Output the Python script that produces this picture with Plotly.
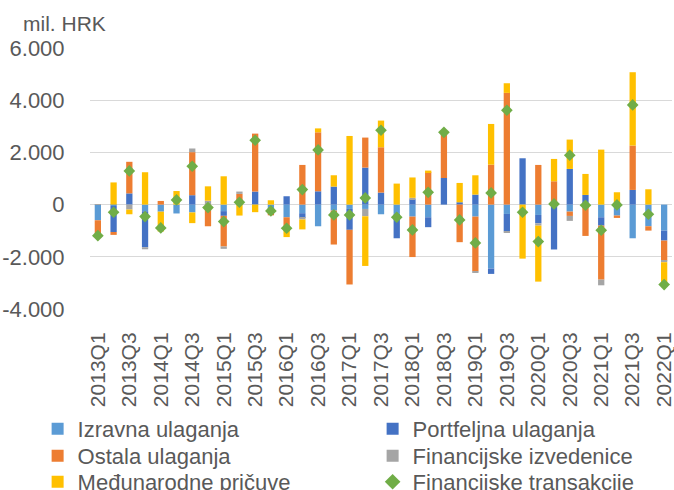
import plotly.graph_objects as go

quarters = [f"{y}Q{q}" for y in range(2013, 2022) for q in range(1, 5)] + ["2022Q1"]
tick_quarters = quarters[::2]

izravna = [-600, -50, 0, -255, -270, -340, -300, 0, -250, 0, 0, -250, -485, -330, -830, -230, -166, -166,
           -370, -358, -460, -485, 0, 0, -460, -2450, -358, 0, -396, 0, -268, 0, -485, -420, -1290, -830, -996]
portfeljna = [0, -1000, 430, -1380, 0, 0, 360, 0, -180, 0, 500, 0, 320, -180, 510, 690, -800, 1418,
              460, -932, 200, -380, 1020, 90, 383, -205, -664, 1775, -320, -1720, 1367, 370, -320, 0, 562, 0, -383]
ostala = [-580, -110, 1210, 0, 140, 0, 1650, -830, -1175, 410, 2220, -160, -380, 1520, 2260, -1300, -2095, 1150,
          1737, 0, -1550, 1240, 1750, -1440, -2095, 1530, 4280, 0, 1520, 894, -166, -1200, -2070, -90, 1700, -166, -766]
izvedenice = [20, 0, -190, -77, 0, 0, 140, 150, -90, 90, 0, 0, 0, -60, 0, 0, 0, -281,
              0, 0, 60, 0, 0, 0, -64, 0, -50, 0, -90, 0, -190, 0, -217, 0, 0, 0, -64]
pricuve = [0, 850, -180, 1240, -760, 520, -410, 550, 1085, -420, -290, 166, -380, -380, 150, 434, 2630, -1903,
           1022, 805, 780, 64, 0, 740, 740, 1560, 370, -2070, -2145, 856, 1124, 805, 2107, 473, 2810, 587, -856]
transakcije = [-1190, -294, 1290, -460, -894, 180, 1470, -115, -650, 90, 2465, -243, -907, 575, 2094, -396,
               -396, 255, 2848, -485, -970, 472, 2770, -587, -1469, 447, 3614, -294, -1418, 25, 1890, -25,
               -983, -13, 3819, -370, -3065]

y_ticks = [-4000, -2000, 0, 2000, 4000, 6000]
y_tick_labels = ["-4.000", "-2.000", "0", "2.000", "4.000", "6.000"]

FONT = "Liberation Sans, Arial, sans-serif"
GREY = "#595959"

fig = go.Figure()
bar_series = [
    ("Izravna ulaganja", izravna, "#5B9BD5", "legend"),
    ("Portfeljna ulaganja", portfeljna, "#4472C4", "legend"),
    ("Ostala ulaganja", ostala, "#ED7D31", "legend2"),
    ("Financijske izvedenice", izvedenice, "#A5A5A5", "legend2"),
    ("Međunarodne pričuve", pricuve, "#FFC000", "legend3"),
]
for name, vals, col, lg in bar_series:
    fig.add_trace(go.Bar(x=quarters, y=vals, name=name, legend=lg,
                         marker=dict(color=col, line=dict(width=0))))

fig.add_trace(go.Scatter(x=quarters, y=transakcije, name="Financijske transakcije", mode="markers",
                         legend="legend3", marker=dict(symbol="diamond", size=9, color="#70AD47")))

PLOT_T, PLOT_H = 48, 261
def row_y(px):
    return 1 - (px - PLOT_T) / PLOT_H

legend_common = dict(orientation="h", xref="paper", yref="paper", x=-0.09,
                     xanchor="left", yanchor="middle", entrywidth=290, entrywidthmode="pixels",
                     font=dict(size=22, color=GREY, family=FONT), bgcolor="rgba(0,0,0,0)",
                     itemsizing="constant")

fig.update_layout(
    width=674, height=490,
    barmode="relative", bargap=0.6,
    paper_bgcolor="white", plot_bgcolor="white",
    margin=dict(l=90, r=2, t=PLOT_T, b=490 - PLOT_T - PLOT_H, autoexpand=False),
    font=dict(family=FONT, color=GREY),
    showlegend=True,
    legend=dict(y=row_y(429), **legend_common),
    legend2=dict(y=row_y(456), **legend_common),
    legend3=dict(y=row_y(482), **legend_common),
    annotations=[dict(text="mil. HRK", xref="paper", yref="paper", x=-0.119, y=1.0, yshift=25,
                      xanchor="left", yanchor="middle", showarrow=False,
                      font=dict(size=21, color=GREY, family=FONT))],
)
fig.update_yaxes(range=[-4000, 6000], tickvals=y_ticks, ticktext=y_tick_labels, automargin=False,
                 showgrid=True, gridcolor="#D9D9D9", gridwidth=1, zeroline=False,
                 ticks="outside", ticklen=20, tickcolor="rgba(0,0,0,0)",
                 tickfont=dict(size=22, color=GREY, family=FONT), showline=False)
fig.update_xaxes(type="category", categoryorder="array", categoryarray=quarters, automargin=False,
                 range=[-0.5, len(quarters) - 0.5],
                 tickvals=tick_quarters, ticktext=tick_quarters, tickangle=-90,
                 ticks="outside", ticklen=14, tickcolor="rgba(0,0,0,0)",
                 tickfont=dict(size=21, color=GREY, family=FONT), showline=False, showgrid=False)

fig.write_html("out.html", config={"displayModeBar": False},
               post_script="document.body.style.margin='0';")
